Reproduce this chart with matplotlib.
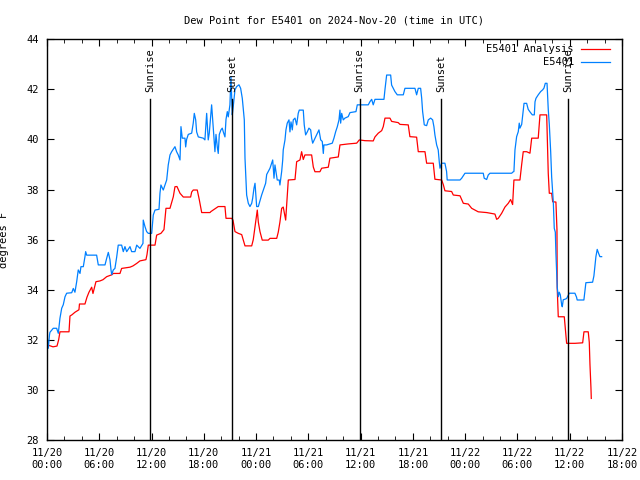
# Dew point chart for E5401 (gnuplot style)
import numpy as np
import matplotlib
matplotlib.use('Agg')
import matplotlib.pyplot as plt
import pandas as pd

# time axis in hours since 2024-11-20 00:00 UTC
start = pd.Timestamp('2024-11-20 00:00')

# E5401 Analysis (red)
analysis_h = [0.03, 0.69, 1.15, 1.34, 1.49, 2.53, 2.64, 2.87, 3.21, 3.67, 3.73, 4.36, 4.59, 4.82,
              5.13, 5.28, 5.62, 6.08, 6.43, 6.85, 7.46, 7.61, 8.38, 8.57, 9.53, 9.87, 10.30, 10.67,
              11.36, 11.48, 11.63, 12.40, 12.59, 13.08, 13.43, 13.66, 14.12, 14.50, 14.69, 14.92,
              15.27, 15.65, 16.49, 16.61, 16.79, 17.25, 17.48, 17.76, 18.71, 18.82, 19.66, 20.43,
              20.55, 21.20, 21.35, 21.58, 21.96, 22.35, 22.53, 22.73, 23.50, 23.68, 23.88, 24.14,
              24.26, 24.45, 24.71, 25.40, 25.60, 26.37, 26.55, 26.74, 26.94, 27.12, 27.40, 27.70,
              28.47, 28.66, 29.04, 29.23, 29.42, 29.61, 30.38, 30.57, 30.76, 31.33, 31.53, 32.29,
              32.48, 33.44, 33.63, 34.58, 35.55, 35.85, 36.50, 37.45, 37.65, 38.03, 38.42, 38.60,
              38.80, 39.37, 39.56, 40.32, 40.52, 41.47, 41.66, 42.43, 42.62, 43.39, 43.58, 44.34,
              44.53, 45.30, 45.49, 45.68, 46.45, 46.64, 47.41, 47.79, 48.36, 48.75, 49.50, 50.47,
              51.42, 51.62, 51.80, 52.19, 52.57, 52.95, 53.22, 53.45, 53.60, 54.29, 54.49, 54.67,
              55.06, 55.44, 55.64, 56.39, 56.59, 57.36, 57.54, 57.66, 57.93, 58.05, 58.42, 58.54,
              58.57, 58.69, 59.38, 59.54, 59.65, 60.60, 61.49, 61.64, 62.13, 62.25, 62.33, 62.44,
              62.48]
analysis_f = [31.80, 31.72, 31.75, 32.00, 32.32, 32.32, 32.95, 33.00, 33.10, 33.20, 33.43, 33.43,
              33.70, 33.90, 34.10, 33.85, 34.32, 34.35, 34.40, 34.52, 34.60, 34.65, 34.65, 34.85,
              34.90, 34.95, 35.05, 35.15, 35.20, 35.40, 35.78, 35.78, 36.18, 36.25, 36.40, 37.25,
              37.25, 37.71, 38.11, 38.12, 37.85, 37.70, 37.70, 37.90, 37.98, 37.98, 37.60, 37.08,
              37.08, 37.12, 37.32, 37.32, 36.85, 36.85, 36.78, 36.32, 36.25, 36.20, 35.98, 35.75,
              35.75, 36.00, 36.50, 37.18, 36.70, 36.32, 35.98, 35.98, 36.05, 36.05, 36.30, 36.70,
              37.25, 37.30, 36.78, 38.38, 38.40, 39.11, 39.18, 39.51, 39.20, 39.38, 39.38, 38.90,
              38.71, 38.71, 38.85, 38.89, 39.25, 39.30, 39.78, 39.82, 39.85, 39.98, 39.95, 39.94,
              40.10, 40.25, 40.35, 40.51, 40.85, 40.85, 40.72, 40.67, 40.60, 40.58, 40.11, 40.09,
              39.51, 39.51, 39.05, 39.05, 38.41, 38.38, 38.20, 37.95, 37.92, 37.78, 37.75, 37.45,
              37.42, 37.25, 37.11, 37.08, 37.02, 36.81, 36.85, 37.05, 37.30, 37.45, 37.60, 37.40,
              38.38, 38.38, 39.00, 39.51, 39.51, 39.45, 40.05, 40.05, 40.98, 40.98, 38.65, 37.85,
              37.85, 37.51, 37.50, 36.40, 34.05, 32.92, 32.92, 32.32, 31.86, 31.86, 31.88, 32.32,
              32.32, 31.90, 31.00, 30.10, 29.66]

# E5401 observations (blue)
obs_h = [0.00, 0.06, 0.15, 0.29, 0.34, 0.72, 1.11, 1.30, 1.49, 1.69, 1.87, 2.07, 2.26, 2.84, 3.02,
         3.21, 3.41, 3.59, 3.79, 3.90, 4.17, 4.36, 4.44, 4.56, 5.70, 5.89, 6.66, 6.85, 7.04, 7.23,
         7.35, 7.43, 7.61, 7.80, 8.00, 8.18, 8.57, 8.76, 8.95, 9.15, 9.53, 9.72, 10.10, 10.30,
         10.67, 11.02, 11.05, 11.25, 11.44, 11.63, 12.02, 12.20, 12.40, 12.86, 12.97, 13.08, 13.35,
         13.54, 13.74, 13.92, 14.12, 14.31, 14.69, 14.88, 15.07, 15.27, 15.38, 15.53, 15.84, 15.92,
         16.03, 16.22, 16.61, 16.79, 16.91, 17.07, 17.18, 17.37, 17.94, 18.13, 18.33, 18.51, 18.63,
         18.90, 19.02, 19.17, 19.28, 19.40, 19.55, 19.66, 19.78, 19.97, 20.12, 20.24, 20.43, 20.55,
         20.70, 20.81, 21.00, 21.12, 21.27, 21.38, 21.58, 21.77, 22.04, 22.23, 22.42, 22.65, 22.73,
         22.92, 23.11, 23.30, 23.50, 23.61, 23.76, 23.88, 24.07, 24.26, 24.45, 24.64, 24.91, 25.10,
         25.22, 25.40, 25.60, 25.79, 25.91, 26.06, 26.17, 26.28, 26.43, 26.66, 26.74, 26.94, 27.06,
         27.12, 27.32, 27.43, 27.58, 27.78, 27.89, 28.01, 28.16, 28.27, 28.47, 28.66, 28.84, 28.96,
         29.42, 29.53, 29.69, 29.88, 30.07, 30.27, 30.38, 30.50, 30.68, 30.96, 31.22, 31.42, 31.60,
         31.72, 31.79, 32.10, 32.75, 32.94, 33.14, 33.32, 33.52, 33.63, 33.71, 33.83, 34.01, 34.20,
         34.58, 34.78, 35.47, 35.62, 36.88, 37.08, 37.27, 37.45, 37.65, 38.68, 38.80, 38.99, 39.45,
         39.56, 39.75, 39.94, 40.21, 40.90, 41.09, 42.24, 42.43, 42.62, 42.89, 43.01, 43.12, 43.31,
         43.58, 43.77, 44.04, 44.27, 44.42, 44.53, 44.73, 44.91, 45.03, 45.11, 45.30, 45.68, 45.87,
         45.94, 47.41, 47.60, 47.98, 50.08, 50.19, 50.47, 50.65, 50.85, 53.34, 53.49, 53.60, 53.72,
         53.91, 54.10, 54.21, 54.29, 54.49, 54.61, 54.76, 55.06, 55.24, 55.44, 55.71, 55.94, 56.02,
         56.13, 56.39, 56.67, 56.90, 57.05, 57.20, 57.40, 57.54, 57.66, 57.82, 57.93, 58.05, 58.12,
         58.23, 58.35, 58.42, 58.57, 58.69, 58.80, 58.92, 59.08, 59.15, 59.26, 59.46, 59.65, 59.95,
         60.60, 60.79, 60.86, 61.63, 61.86, 62.63, 62.78, 63.01, 63.16, 63.32, 63.47, 63.67]
obs_f = [32.32, 32.00, 31.66, 32.20, 32.30, 32.46, 32.46, 32.26, 32.86, 33.26, 33.40, 33.72, 33.86,
         33.88, 34.05, 33.90, 34.32, 34.79, 34.65, 34.92, 34.92, 35.32, 35.52, 35.38, 35.38, 34.99,
         34.99, 35.25, 35.49, 35.20, 34.79, 34.60, 34.79, 34.85, 35.30, 35.78, 35.78, 35.52, 35.72,
         35.52, 35.72, 35.52, 35.52, 35.78, 35.65, 35.85, 36.78, 36.52, 36.32, 36.25, 36.25, 36.98,
         37.18, 37.21, 37.85, 38.18, 37.98, 38.18, 38.38, 38.98, 39.38, 39.51, 39.71, 39.51, 39.38,
         39.18, 40.51, 40.05, 40.05, 39.70, 40.00, 40.20, 40.25, 40.65, 41.04, 40.78, 40.30, 40.10,
         40.05, 39.98, 41.04, 39.98, 40.25, 41.38, 40.78, 39.98, 39.51, 40.20, 39.70, 39.44, 40.20,
         40.38, 40.45, 40.30, 40.10, 40.80, 41.11, 40.90, 41.38, 42.51, 40.98, 41.31, 41.98, 42.11,
         42.18, 42.04, 41.64, 40.78, 39.25, 37.78, 37.45, 37.32, 37.45, 37.65, 38.05, 38.25, 37.32,
         37.32, 37.55, 37.78, 38.05, 38.25, 38.60, 38.72, 38.85, 39.05, 39.18, 38.45, 38.98, 38.72,
         38.38, 38.38, 38.18, 38.72, 39.18, 39.58, 39.98, 40.38, 40.65, 40.78, 40.30, 40.70, 40.38,
         40.78, 40.85, 40.58, 41.04, 41.17, 41.17, 40.58, 40.18, 40.30, 40.45, 40.38, 40.05, 39.85,
         39.98, 40.18, 40.38, 39.98, 39.92, 39.44, 39.78, 39.78, 39.85, 40.05, 40.31, 40.50, 40.78,
         41.17, 40.65, 41.04, 40.78, 40.85, 40.91, 41.07, 41.11, 41.38, 41.38, 41.51, 41.60, 41.38,
         41.60, 41.60, 42.00, 42.57, 42.57, 42.17, 42.04, 41.91, 41.78, 41.78, 42.04, 42.04, 41.78,
         42.04, 42.04, 41.65, 41.11, 40.58, 40.55, 40.78, 40.85, 40.78, 40.50, 40.18, 39.78, 39.58,
         39.11, 38.85, 39.05, 39.05, 38.72, 38.38, 38.38, 38.45, 38.65, 38.65, 38.45, 38.40, 38.58,
         38.65, 38.65, 38.70, 38.72, 39.58, 40.11, 40.31, 40.65, 40.45, 40.60, 40.98, 41.44, 41.44,
         41.20, 41.10, 40.98, 40.98, 41.50, 41.64, 41.78, 41.91, 41.98, 42.05, 42.24, 42.24, 41.20,
         40.60, 39.50, 38.51, 37.85, 37.50, 36.45, 36.30, 35.45, 34.10, 33.72, 33.90, 33.80, 33.40,
         33.32, 33.60, 33.62, 33.65, 33.86, 33.86, 33.70, 33.59, 33.59, 34.28, 34.30, 34.55, 35.32,
         35.61, 35.45, 35.32, 35.32]

# sunrise / sunset times (hours)
sun_h = [11.88, 21.27, 35.89, 45.26, 59.83]
sun_lbl = ['Sunrise', 'Sunset', 'Sunrise', 'Sunset', 'Sunrise']

tick_h = list(range(0, 67, 6))
tick_lbl = [(start + pd.Timedelta(hours=h)).strftime('%m/%d\n%H:%M') for h in tick_h]

plt.rcParams['font.family'] = ['DejaVu Sans Mono']
plt.rcParams['font.size'] = 7.5

fig = plt.figure(figsize=(6.4, 4.8), dpi=100)
ax = fig.add_axes([0.0734, 0.0833, 0.8984, 0.835])

ax.plot(analysis_h, analysis_f, color='#ff0000', lw=0.9)
ax.plot(obs_h, obs_f, color='#0080ff', lw=0.9)

for h, s in zip(sun_h, sun_lbl):
    ax.plot([h, h], [28, 41.6], color='black', lw=1.0)
    ax.text(h, 41.9, s, rotation=90, ha='center', va='bottom', fontsize=7.5)

ax.set_xlim(0, 66)
ax.set_ylim(28, 44)
ax.set_xticks(tick_h)
ax.set_xticklabels(tick_lbl)
ax.set_xticks(np.arange(0, 67, 2), minor=True)
ax.set_yticks(np.arange(28, 45, 2))
ax.tick_params(which='both', direction='in', top=True, right=True)
ax.tick_params(which='major', length=5, pad=6)
ax.tick_params(which='minor', length=3)
for sp in ax.spines.values():
    sp.set_linewidth(1.0)

ax.set_title('Dew Point for E5401 on 2024-Nov-20 (time in UTC)', fontsize=7.5, pad=11)
ax.set_ylabel('degrees F')
ax.yaxis.set_label_coords(-0.066, 0.5)

# gnuplot style key, text right-justified
ax.text(0.9165, 0.975, 'E5401 Analysis', transform=ax.transAxes, ha='right', va='center')
ax.plot([0.9287, 0.979], [0.975, 0.975], color='#ff0000', lw=0.9, transform=ax.transAxes)
ax.text(0.9165, 0.9426, 'E5401', transform=ax.transAxes, ha='right', va='center')
ax.plot([0.9287, 0.979], [0.9426, 0.9426], color='#0080ff', lw=0.9, transform=ax.transAxes)

plt.savefig('out.png', dpi=100)
